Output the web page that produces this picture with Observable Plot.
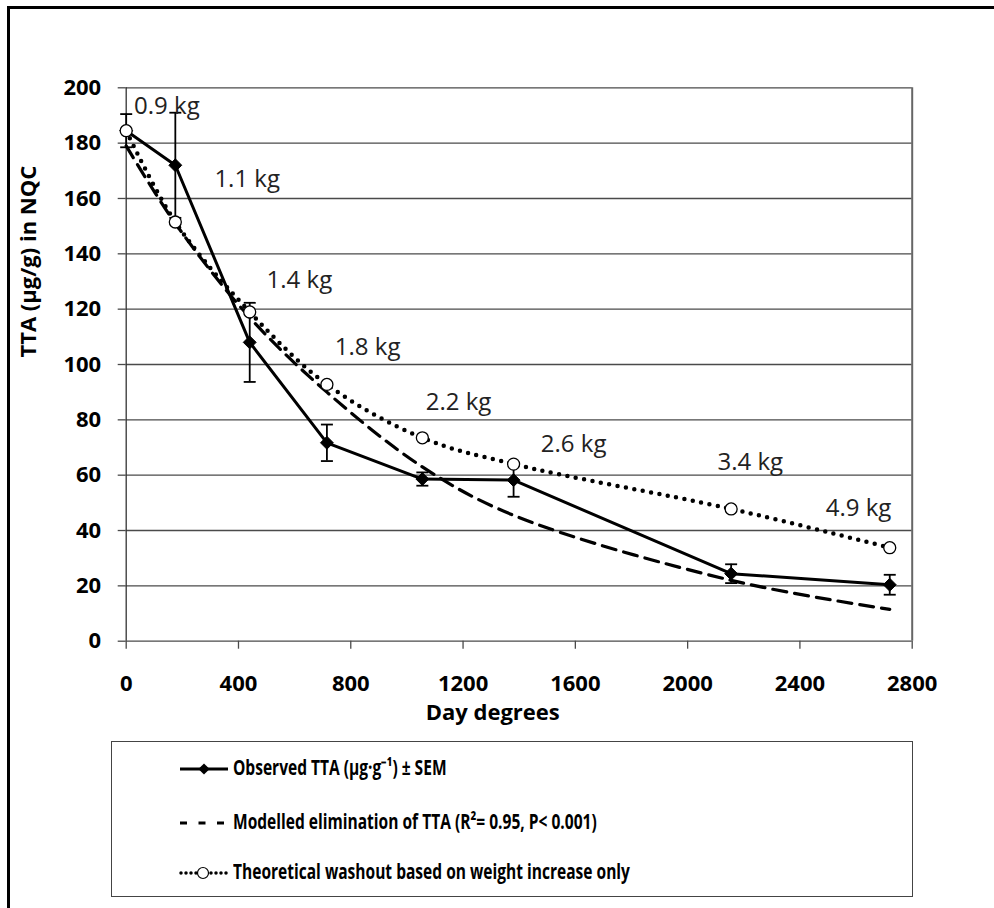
<!DOCTYPE html>
<html><head><meta charset="utf-8">
<script src="https://cdn.jsdelivr.net/npm/d3@7"></script>
<script src="https://cdn.jsdelivr.net/npm/@observablehq/plot@0.6"></script>
<style>
body{margin:0;background:#fff;}
#wrap{position:relative;width:994px;height:908px;overflow:hidden;background:#fff;}
#frameTop{position:absolute;left:7px;top:6px;width:1000px;height:2.5px;background:#000;}
#frameLeft{position:absolute;left:7px;top:6px;width:2.5px;height:920px;background:#000;}
#chart{position:absolute;left:0;top:0;}
#legend{position:absolute;left:111px;top:741px;width:802px;height:156px;box-sizing:border-box;border:1.5px solid #444;background:#fff;}
.row{position:absolute;left:0;height:24px;}
.row svg{position:absolute;left:67px;top:2px;}
.row span{position:absolute;left:121px;top:-2px;white-space:nowrap;font-family:'Open Sans',sans-serif;font-weight:bold;font-size:21px;color:#000;line-height:24px;transform:scaleX(0.74);transform-origin:0 50%;}
</style></head><body>
<div id="wrap"><div id="chart"></div><div id="frameTop"></div><div id="frameLeft"></div><div id="legend"></div></div>
<script>
// ---- data ----
const dayDegrees   = [0, 175, 440, 715, 1055, 1380, 2155, 2720];
const observed     = [184.5, 172, 108, 71.7, 58.6, 58.2, 24.4, 20.4];
const sem          = [6, 19, 14.3, 6.6, 2.4, 6, 3.4, 3.6];
const modelled     = [179, 151, 117, 90, 63, 45.5, 22, 11.5];
const theoretical  = [184.5, 151.5, 119, 92.8, 73.5, 64, 47.8, 33.8];
const weightLabels = ["0.9 kg", "1.1 kg", "1.4 kg", "1.8 kg", "2.2 kg", "2.6 kg", "3.4 kg", "4.9 kg"];
const labelX       = [145, 431, 617, 860, 1184, 1594, 2223, 2609];
const labelY       = [193.4, 167, 130.3, 106.2, 86.4, 71.3, 64.6, 48.2];
const xTicks = [0, 400, 800, 1200, 1600, 2000, 2400, 2800];
const yTicks = [0, 20, 40, 60, 80, 100, 120, 140, 160, 180, 200];
const xTitle = "Day degrees";
const yTitle = "TTA (µg/g) in NQC";
const legendLabels = [
  "Observed TTA (µg·g⁻¹) ± SEM",
  "Modelled elimination of TTA (R²= 0.95, P< 0.001)",
  "Theoretical washout based on weight increase only"
];

const obs = dayDegrees.map((x, i) => ({x, y: observed[i], lo: observed[i] - sem[i], hi: observed[i] + sem[i]}));
const mod = dayDegrees.map((x, i) => ({x, y: modelled[i]}));
const theo = dayDegrees.map((x, i) => ({x, y: theoretical[i]}));
const caps = obs.flatMap(d => [{x: d.x, y: d.lo}, {x: d.x, y: d.hi}]);
const labels = weightLabels.map((t, i) => ({t, x: labelX[i], y: labelY[i]}));

const capSymbol = {draw(ctx, size) { const r = Math.sqrt(size / Math.PI); ctx.moveTo(-r, 0); ctx.lineTo(r, 0); }};

const chart = Plot.plot({
  width: 994, height: 735,
  marginLeft: 125.7, marginRight: 82.3, marginTop: 87.3, marginBottom: 94.3,
  style: {fontFamily: "'Open Sans', sans-serif", background: "transparent", color: "#000"},
  x: {domain: [0, 2800]},
  y: {domain: [0, 200]},
  marks: [
    Plot.ruleY(yTicks, {x1: 0, x2: 2800, stroke: "#4a4a4a", strokeWidth: 1.3}),
    Plot.ruleX([0], {y1: 0, y2: 200, stroke: "#333", strokeWidth: 1.3}),
    Plot.ruleX([2800], {y1: 0, y2: 200, stroke: "#666", strokeWidth: 2}),
    Plot.axisY({ticks: yTicks, tickSize: 8, tickPadding: 17, fontSize: 22, fontWeight: "bold", label: null, stroke: "#4a4a4a", strokeWidth: 1.3, tickFormat: d3.format("d")}),
    Plot.axisX({ticks: xTicks, tickSize: 8, tickPadding: 26, fontSize: 22, fontWeight: "bold", label: null, stroke: "#4a4a4a", strokeWidth: 1.3, tickFormat: d3.format("d")}),
    Plot.text([xTitle], {frameAnchor: "bottom", dx: -26.5, dy: 79, lineAnchor: "bottom", fontSize: 22, fontWeight: "bold", fill: "#000"}),
    Plot.text([yTitle], {frameAnchor: "left", rotate: -90, dx: -97, dy: -7, lineAnchor: "middle", fontSize: 22, fontWeight: "bold", fill: "#000"}),
    Plot.line(mod, {x: "x", y: "y", curve: "catmull-rom", stroke: "#000", strokeWidth: 3.2, strokeDasharray: "14 8"}),
    Plot.line(obs, {x: "x", y: "y", stroke: "#000", strokeWidth: 3}),
    Plot.ruleX(obs, {x: "x", y1: "lo", y2: "hi", stroke: "#000", strokeWidth: 1.8}),
    Plot.dot(caps, {x: "x", y: "y", symbol: capSymbol, r: 6, fill: "none", stroke: "#000", strokeWidth: 1.8}),
    Plot.dot(obs, {x: "x", y: "y", symbol: "diamond2", r: 5.8, fill: "#000", stroke: "#000", strokeWidth: 1}),
    Plot.line(theo, {x: "x", y: "y", curve: "catmull-rom", stroke: "#000", strokeWidth: 4.5, strokeDasharray: "0 8.5", strokeLinecap: "round"}),
    Plot.dot(theo, {x: "x", y: "y", r: 6, fill: "#fff", stroke: "#000", strokeWidth: 1.3}),
    Plot.text(labels, {x: "x", y: "y", text: "t", fontSize: 24, fill: "#222", lineAnchor: "middle"})
  ]
});
document.getElementById("chart").appendChild(chart);

// ---- legend ----
const legend = d3.select("#legend");
const rowY = [14.7, 68.7, 118.7];
legendLabels.forEach((lab, i) => {
  const row = legend.append("div").attr("class", "row").style("top", rowY[i] + "px").style("width", "780px");
  const svg = row.append("svg").attr("width", 52).attr("height", 20);
  if (i === 0) {
    svg.append("line").attr("x1", 1).attr("x2", 49).attr("y1", 10).attr("y2", 10).attr("stroke", "#000").attr("stroke-width", 3);
    svg.append("path").attr("d", d3.symbol(d3.symbolDiamond2, 80)()).attr("transform", "translate(25,10)").attr("fill", "#000");
  } else if (i === 1) {
    svg.append("line").attr("x1", 1).attr("x2", 49).attr("y1", 10).attr("y2", 10).attr("stroke", "#000").attr("stroke-width", 3.2).attr("stroke-dasharray", "7 11.5");
  } else {
    svg.append("line").attr("x1", 2).attr("x2", 48).attr("y1", 10).attr("y2", 10).attr("stroke", "#000").attr("stroke-width", 3.5).attr("stroke-dasharray", "0 5").attr("stroke-linecap", "round");
    svg.append("circle").attr("cx", 24).attr("cy", 10).attr("r", 5.5).attr("fill", "#fff").attr("stroke", "#000").attr("stroke-width", 1.2);
  }
  row.append("span").text(lab);
});
</script>
</body></html>
